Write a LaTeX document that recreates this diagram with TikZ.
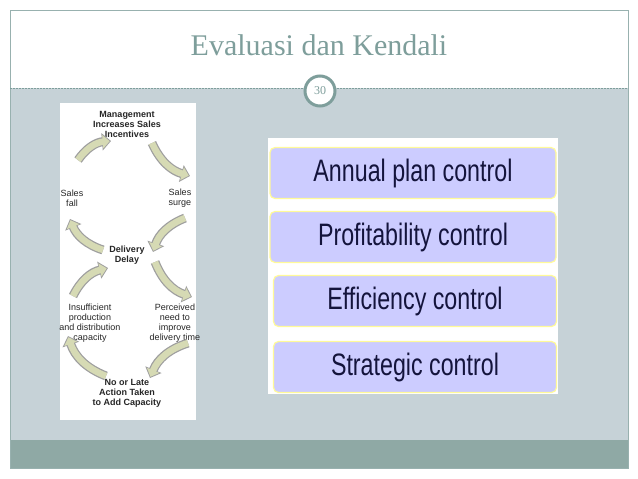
\documentclass[tikz,border=0pt]{standalone}
\usepackage{fontspec}
\setmainfont{Liberation Serif}
\newfontfamily\arialf{Liberation Sans}
\usetikzlibrary{arrows.meta}
\definecolor{teal}{HTML}{7E9E9B}
\definecolor{band}{HTML}{8FA9A5}
\definecolor{panel}{HTML}{C6D2D7}
\definecolor{lav}{HTML}{CCCCFF}
\definecolor{navy}{HTML}{14143C}
\definecolor{agreen}{HTML}{D6DAB4}
\tikzset{
  ctrl/.style={draw=yellow!40!white, line width=1.2pt, fill=lav, rounded corners=5pt, minimum width=286pt, minimum height=51pt, font=\arialf\fontsize{31}{31}\selectfont, text=navy},
  lbl/.style={font=\arialf\fontsize{9}{10}\selectfont, align=center, text=black!85, inner sep=1pt},
  blbl/.style={lbl, font=\arialf\bfseries\fontsize{9}{10}\selectfont},
  aout/.style={draw=gray!75, line width=9pt, -{Triangle[width=17pt,length=9pt]}},
  ain/.style={draw=agreen, line width=6.5pt, -{Triangle[width=13pt,length=7pt]}, shorten >=1.3pt}
}
\newcommand\cyc[3]{\draw[aout] (#1) to[#3] (#2); \draw[ain] (#1) to[#3] (#2);}
\begin{document}
\begin{tikzpicture}[x=1pt,y=-1pt]
\useasboundingbox (0,0) rectangle (638,479);
\fill[white] (0,0) rectangle (638,479);
\fill[panel] (10,88) rectangle (628,440);
\fill[band] (10,440) rectangle (628,468);
\draw[teal!80, line width=0.8pt] (10,10) rectangle (628,468);
\draw[teal, dashed, line width=0.4pt, dash pattern=on 2pt off 1pt] (10,88) -- (628,88);
\node[font=\fontsize{30}{32}\selectfont, text=teal] (title) at (319,45) {Evaluasi dan Kendali};
\node[circle, draw=teal, line width=3pt, fill=white, minimum size=30pt, inner sep=0pt, text=teal, font=\fontsize{12}{12}\selectfont] (num) at (320,91) {30};
% left image
\fill[white] (60,103) rectangle (196,420);
\node[blbl] (mg) at (127,124) {Management\\Increases Sales\\Incentives};
\node[lbl] (sf) at (72,198) {Sales\\fall};
\node[lbl] (ss) at (180,198) {Sales\\surge};
\node[blbl] (dd) at (127,255) {Delivery\\Delay};
\node[lbl] (ins) at (90,323) {Insufficient\\production\\and distribution\\capacity};
\node[lbl] (pn) at (175,323) {Perceived\\need to\\improve\\delivery time};
\node[blbl] (nl) at (127,393) {No or Late\\Action Taken\\to Add Capacity};
\coordinate (a1) at (78,160); \coordinate (b1) at (111,141);
\coordinate (a2) at (152,143); \coordinate (b2) at (190,176);
\coordinate (a3) at (185,218); \coordinate (b3) at (153,252);
\coordinate (a4) at (103,250); \coordinate (b4) at (70,219);
\coordinate (a5) at (73,296); \coordinate (b5) at (108,268);
\coordinate (a6) at (155,262); \coordinate (b6) at (192,297);
\coordinate (a7) at (188,343); \coordinate (b7) at (150,378);
\coordinate (a8) at (106,376); \coordinate (b8) at (68,336);
\cyc{a1}{b1}{bend left=25}
\cyc{a2}{b2}{bend right=25}
\cyc{a3}{b3}{bend right=25}
\cyc{a4}{b4}{bend left=25}
\cyc{a5}{b5}{bend left=25}
\cyc{a6}{b6}{bend right=25}
\cyc{a7}{b7}{bend right=25}
\cyc{a8}{b8}{bend left=25}
% right panel
\fill[white] (268,138) rectangle (558,394);
\node[ctrl] (c1) at (413,173) {\scalebox{0.75}[1]{Annual plan control}};
\node[ctrl] (c2) at (413,237) {\scalebox{0.75}[1]{Profitability control}};
\node[ctrl, minimum width=283pt] (c3) at (415,301) {\scalebox{0.75}[1]{Efficiency control}};
\node[ctrl, minimum width=283pt] (c4) at (415,367) {\scalebox{0.75}[1]{Strategic control}};
\end{tikzpicture}
\end{document}
